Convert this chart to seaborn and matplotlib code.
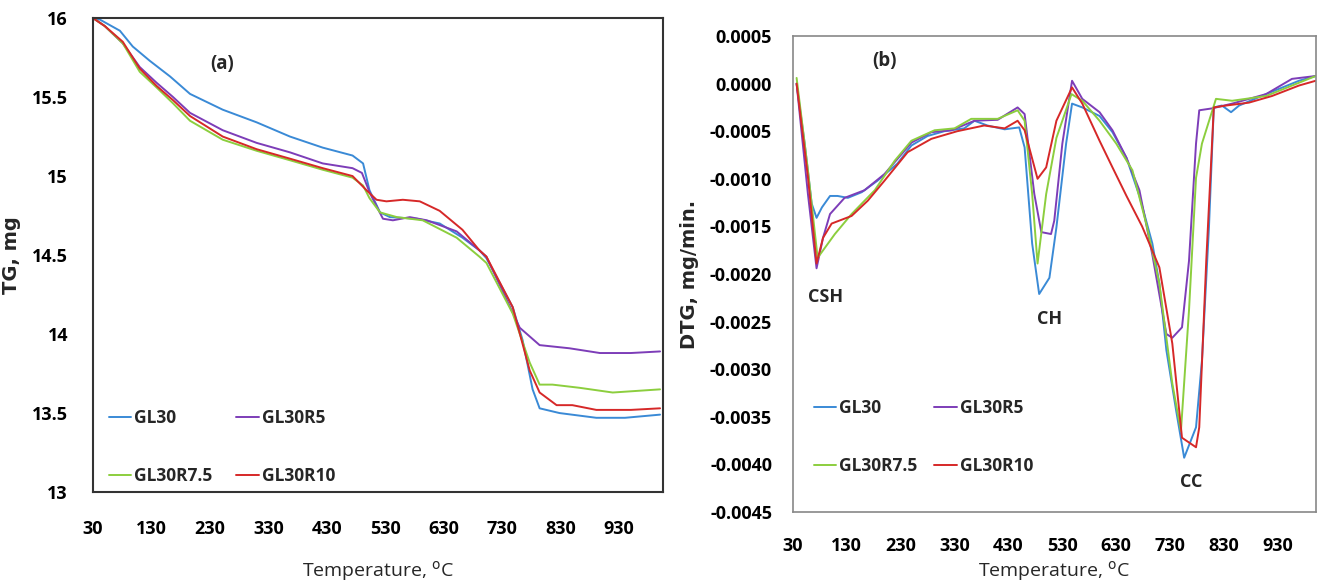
import matplotlib
matplotlib.use('Agg')
import matplotlib.pyplot as plt
import pandas as pd
import seaborn as sns

series_names = ['GL30', 'GL30R5', 'GL30R7.5', 'GL30R10']
series_colors = ['#3a8ad6', '#7d3db8', '#8cce3e', '#d62828']

# (a) TG curves
tg_t_gl30 = [30, 42, 76, 98, 127, 162, 196, 252, 310, 367, 423, 474, 492, 503, 521, 538, 584, 623, 662, 691,
             703, 748, 765, 782, 794, 828, 891, 940, 1000]
tg_gl30 = [16.0, 15.99, 15.92, 15.82, 15.73, 15.63, 15.52, 15.42, 15.34, 15.25, 15.18, 15.13, 15.08, 14.91, 14.77,
           14.74, 14.73, 14.70, 14.61, 14.53, 14.48, 14.17, 13.96, 13.65, 13.53, 13.50, 13.47, 13.47, 13.49]

tg_t_gl30r5 = [30, 50, 81, 110, 139, 167, 196, 252, 310, 367, 423, 474, 490, 504, 526, 543, 572, 601, 652, 691,
               703, 760, 794, 845, 897, 950, 1000]
tg_gl30r5 = [16.0, 15.95, 15.84, 15.69, 15.59, 15.50, 15.40, 15.29, 15.21, 15.15, 15.08, 15.05, 15.02, 14.89, 14.73,
             14.72, 14.74, 14.72, 14.65, 14.53, 14.49, 14.04, 13.93, 13.91, 13.88, 13.88, 13.89]

tg_t_gl30r75 = [30, 50, 81, 110, 139, 167, 196, 252, 310, 367, 423, 474, 492, 503, 521, 550, 594, 652, 691, 703,
                748, 777, 794, 816, 862, 919, 1000]
tg_gl30r75 = [16.0, 15.95, 15.84, 15.66, 15.56, 15.46, 15.35, 15.23, 15.16, 15.10, 15.04, 14.99, 14.94, 14.86, 14.77,
              14.74, 14.72, 14.61, 14.49, 14.45, 14.13, 13.82, 13.68, 13.68, 13.66, 13.63, 13.65]

tg_t_gl30r10 = [30, 50, 81, 110, 139, 167, 196, 252, 310, 367, 423, 474, 498, 515, 532, 560, 589, 623, 662, 691,
                703, 748, 777, 794, 823, 850, 891, 950, 1000]
tg_gl30r10 = [16.0, 15.95, 15.85, 15.68, 15.57, 15.48, 15.38, 15.25, 15.17, 15.11, 15.05, 15.00, 14.91, 14.85, 14.84,
              14.85, 14.84, 14.78, 14.66, 14.53, 14.49, 14.17, 13.77, 13.63, 13.55, 13.55, 13.52, 13.52, 13.53]

# (b) DTG curves
dtg_t_gl30 = [37, 52, 65, 74, 84, 99, 113, 132, 158, 187, 224, 250, 280, 311, 348, 367, 391, 423, 450, 460, 474,
              487, 506, 519, 537, 548, 567, 599, 623, 649, 673, 697, 710, 723, 741, 756, 778, 789, 802, 811, 826,
              843, 858, 908, 969, 1000]
dtg_gl30 = [0.0, -0.00063, -0.00126, -0.00141, -0.0013, -0.00118, -0.00118, -0.0012, -0.00114, -0.00102, -0.00084,
            -0.00065, -0.00055, -0.0005, -0.00047, -0.00039, -0.00044, -0.00048, -0.00046, -0.00067, -0.00168,
            -0.00221, -0.00204, -0.00151, -0.00063, -0.00021, -0.00025, -0.00034, -0.00051, -0.00078, -0.00118,
            -0.00168, -0.0021, -0.0028, -0.00343, -0.00393, -0.00361, -0.00291, -0.00151, -0.00025, -0.00023,
            -0.0003, -0.00023, -0.00011, 0.00003, 0.00008]

dtg_t_gl30r5 = [37, 58, 74, 86, 99, 126, 163, 200, 250, 287, 324, 367, 410, 447, 460, 478, 491, 509, 515, 530, 548,
                567, 599, 623, 649, 673, 697, 723, 734, 752, 765, 778, 784, 808, 845, 908, 956, 1000]
dtg_gl30r5 = [0.0, -0.00116, -0.00194, -0.00162, -0.00137, -0.0012, -0.00112, -0.00095, -0.00062, -0.00051,
              -0.00049, -0.00039, -0.00038, -0.00025, -0.00032, -0.00116, -0.00156, -0.00158, -0.00144, -0.00063,
              0.00003, -0.00016, -0.0003, -0.00049, -0.00078, -0.00112, -0.0018, -0.00263, -0.00267, -0.00256,
              -0.00186, -0.00063, -0.00028, -0.00026, -0.00021, -0.00011, 0.00005, 0.00008]

dtg_t_gl30r75 = [37, 58, 76, 108, 139, 182, 219, 250, 293, 330, 361, 410, 447, 460, 474, 484, 500, 519, 547, 567,
                 599, 630, 660, 686, 710, 734, 750, 765, 778, 789, 815, 845, 908, 1000]
dtg_gl30r75 = [0.00006, -0.00091, -0.00183, -0.00158, -0.00137, -0.00112, -0.00081, -0.0006, -0.00049, -0.00047,
               -0.00037, -0.00037, -0.00028, -0.00039, -0.00116, -0.00189, -0.00116, -0.00057, -0.00011, -0.00018,
               -0.00039, -0.00063, -0.00091, -0.00148, -0.0021, -0.00315, -0.00365, -0.00238, -0.00099, -0.00063,
               -0.00016, -0.00018, -0.00013, 0.00008]

dtg_t_gl30r10 = [37, 58, 74, 86, 102, 139, 169, 200, 243, 287, 335, 385, 423, 447, 460, 484, 500, 519, 548, 567,
                 599, 623, 649, 678, 710, 734, 752, 778, 784, 797, 811, 834, 876, 919, 969, 1000]
dtg_gl30r10 = [0.0, -0.00098, -0.00189, -0.00162, -0.00147, -0.00139, -0.00123, -0.00102, -0.00072, -0.00058,
               -0.0005, -0.00044, -0.00047, -0.00039, -0.00049, -0.001, -0.00088, -0.00039, -0.00004, -0.00021,
               -0.0006, -0.00088, -0.00118, -0.0015, -0.00193, -0.00273, -0.00372, -0.00382, -0.00361, -0.00186,
               -0.00025, -0.00023, -0.0002, -0.00013, -0.00002, 0.00003]

tg_ticks = [13, 13.5, 14, 14.5, 15, 15.5, 16]
dtg_ticks = [-0.0045, -0.0040, -0.0035, -0.0030, -0.0025, -0.0020, -0.0015, -0.0010, -0.0005, 0.0, 0.0005]
temp_ticks = [30, 130, 230, 330, 430, 530, 630, 730, 830, 930]


def long_table(ts, ys):
    frames = []
    for name, t, y in zip(series_names, ts, ys):
        frames.append(pd.DataFrame({'T': t, 'v': y, 'sample': name}))
    return pd.concat(frames, ignore_index=True)


tg_df = long_table([tg_t_gl30, tg_t_gl30r5, tg_t_gl30r75, tg_t_gl30r10],
                   [tg_gl30, tg_gl30r5, tg_gl30r75, tg_gl30r10])
dtg_df = long_table([dtg_t_gl30, dtg_t_gl30r5, dtg_t_gl30r75, dtg_t_gl30r10],
                    [dtg_gl30, dtg_gl30r5, dtg_gl30r75, dtg_gl30r10])

sns.set_style('white')
plt.rcParams['font.family'] = ['Open Sans', 'DejaVu Sans']
palette = dict(zip(series_names, series_colors))

fig = plt.figure(figsize=(13.17, 5.83), dpi=100)
ax1 = fig.add_axes([0.0706, 0.156, 0.4328, 0.813])
ax2 = fig.add_axes([0.602, 0.1218, 0.397, 0.8164])

legend_spots = {ax1: ((0.0, -0.018), 1.4), ax2: ((0.01, 0.045), 1.0)}

for ax, df in [(ax1, tg_df), (ax2, dtg_df)]:
    sns.lineplot(data=df, x='T', y='v', hue='sample', palette=palette, estimator=None,
                 sort=False, linewidth=1.4, ax=ax)
    h, l = ax.get_legend_handles_labels()
    order = [0, 2, 1, 3]
    anchor, colsp = legend_spots[ax]
    ax.legend([h[i] for i in order], [l[i] for i in order], ncol=2, frameon=False,
              handlelength=1.3, handletextpad=0.15, columnspacing=colsp, labelspacing=2.3,
              prop={'weight': 'bold', 'size': 12.5}, loc='lower left', bbox_to_anchor=anchor)
    ax.set_xticks(temp_ticks)
    ax.tick_params(axis='both', direction='out', length=5, labelsize=13, width=1, colors='#777777',
                   labelcolor='black')
    for lab in ax.get_xticklabels() + ax.get_yticklabels():
        lab.set_fontweight('bold')
    ax.set_xlabel('Temperature, $^{\\mathrm{o}}$C', fontsize=14)

ax1.set_xlim(30, 1005)
ax1.set_ylim(13, 16)
ax1.set_yticks(tg_ticks)
ax1.set_yticklabels(['13', '13.5', '14', '14.5', '15', '15.5', '16'])
ax1.tick_params(axis='x', pad=15)
ax1.tick_params(axis='y', pad=13)
ax1.set_ylabel('TG, mg', fontsize=14, fontweight='bold', family='DejaVu Sans', labelpad=8)
ax1.xaxis.labelpad = 15
for s in ax1.spines.values():
    s.set_color('#333333')
    s.set_linewidth(1.5)
ax1.text(230, 15.68, '(a)', fontsize=13.5, fontweight='bold')

ax2.set_xlim(30, 1000)
ax2.set_ylim(-0.0045, 0.0005)
ax2.set_yticks(dtg_ticks)
ax2.set_yticklabels(['%.4f' % v for v in dtg_ticks])
ax2.tick_params(axis='x', pad=13)
ax2.tick_params(axis='y', pad=10)
ax2.set_ylabel('DTG, mg/min.', fontsize=14, fontweight='bold', family='DejaVu Sans', labelpad=8)
ax2.xaxis.labelpad = 3
for s in ax2.spines.values():
    s.set_color('#888888')
    s.set_linewidth(1.2)
ax2.text(200, 0.00024, '(b)', fontsize=13.5, fontweight='bold', ha='center', va='center')
ax2.text(91, -0.00224, 'CSH', fontsize=13, fontweight='bold', ha='center', va='center')
ax2.text(506, -0.00247, 'CH', fontsize=13, fontweight='bold', ha='center', va='center')
ax2.text(769, -0.00419, 'CC', fontsize=13, fontweight='bold', ha='center', va='center')

fig.savefig('out.png', dpi=100)
